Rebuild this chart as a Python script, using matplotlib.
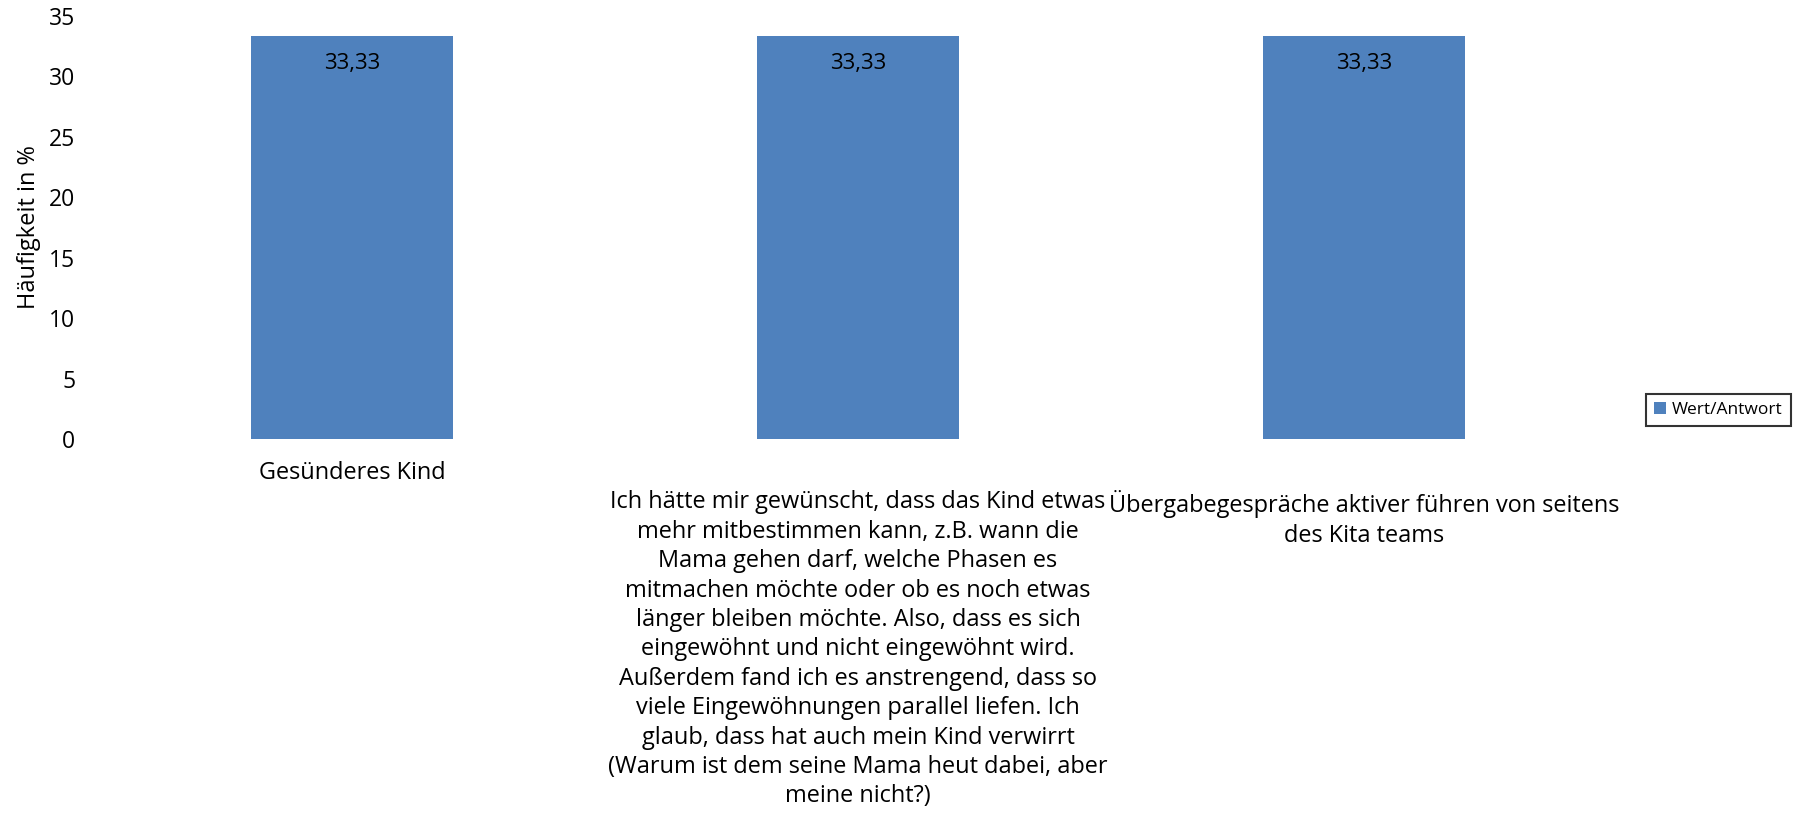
import numpy as np
import matplotlib
matplotlib.use("Agg")
import matplotlib.pyplot as plt

plt.rcParams['font.family'] = ['Open Sans', 'DejaVu Sans']

categories = [
    "Gesünderes Kind",
    "Ich hätte mir gewünscht, dass das Kind etwas\nmehr mitbestimmen kann, z.B. wann die\n"
    "Mama gehen darf, welche Phasen es\nmitmachen möchte oder ob es noch etwas\n"
    "länger bleiben möchte. Also, dass es sich\neingewöhnt und nicht eingewöhnt wird.\n"
    "Außerdem fand ich es anstrengend, dass so\nviele Eingewöhnungen parallel liefen. Ich\n"
    "glaub, dass hat auch mein Kind verwirrt\n(Warum ist dem seine Mama heut dabei, aber\nmeine nicht?)",
    "Übergabegespräche aktiver führen von seitens\ndes Kita teams",
]
values = [33.33, 33.33, 33.33]
value_labels = ["33,33", "33,33", "33,33"]
series_name = "Wert/Antwort"

fig = plt.figure(figsize=(17.98, 8.13), dpi=100)
ax = fig.add_axes([99 / 1798, 1 - 439 / 813, (1617 - 99) / 1798, (439 - 16) / 813])

x = np.arange(len(categories))
bars = ax.bar(x, values, width=0.4, color="#4F81BD", label=series_name)

for b, lab in zip(bars, value_labels):
    ax.annotate(lab, (b.get_x() + b.get_width() / 2, b.get_height()),
                xytext=(0, -27), textcoords="offset pixels",
                ha="center", va="center", fontsize=16)

ax.set_xlim(-0.5, len(categories) - 0.5)
ax.set_ylim(0, 35)
ax.set_yticks(range(0, 36, 5))
ax.set_xticks(x)
ax.set_xticklabels([])
ax.tick_params(axis="both", length=0)
ax.tick_params(axis="y", labelsize=16.5, pad=17)
for s in ax.spines.values():
    s.set_visible(False)
ax.set_ylabel("Häufigkeit in %", fontsize=17, labelpad=6)

# category labels below the axis (single-line label sits higher, as in Excel)
for xi, cat in zip(x, categories):
    pad = 15.5 if "\n" not in cat else 37
    ax.annotate(cat, (xi, 0), xycoords=("data", "axes fraction"),
                xytext=(0, -pad), textcoords="offset points",
                ha="center", va="top", fontsize=16.9, linespacing=1.3)

leg = ax.legend(loc="center left", bbox_to_anchor=(1646 / 1798, 1 - 410 / 813),
                bbox_transform=fig.transFigure, frameon=True, fancybox=False,
                fontsize=12.5, handlelength=0.7, handleheight=0.7, handletextpad=0.35,
                borderpad=0.45, borderaxespad=0)
leg.get_frame().set_edgecolor("black")
leg.get_frame().set_linewidth(1.5)

fig.savefig("out.png", dpi=100)
